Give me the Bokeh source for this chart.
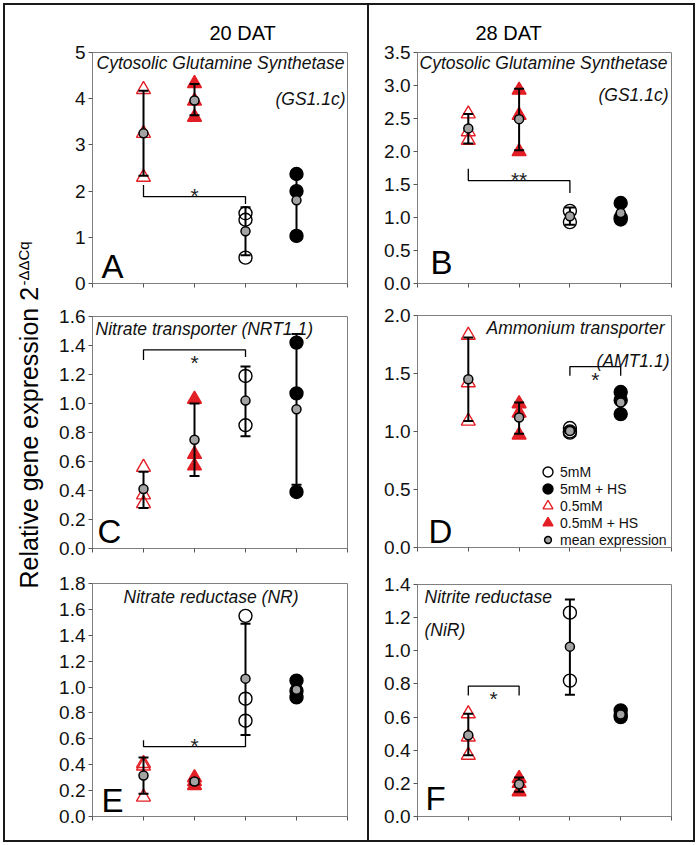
import math
from bokeh.plotting import figure
from bokeh.layouts import row, column
from bokeh.models import (Range1d, FixedTicker, PrintfTickFormatter, Label, Legend,
                          LegendItem, Title)
from bokeh.embed import file_html
from bokeh.resources import INLINE
from bokeh.core.properties import value

FONT = "Liberation Sans"
RED = "#e31f26"
GRAY = "#a3a3a3"
AXC = "#808080"

# ---------------- data ----------------
groups = ["0.5mM", "0.5mM + HS", "5mM", "5mM + HS"]
day_titles = ["20 DAT", "28 DAT"]
ylabel_main = "Relative gene expression 2"
ylabel_sup = "-ΔΔCq"

# Panel A: 20 DAT, GS1.1c
A_05 = [4.20, 3.25, 2.30]
A_05HS = [4.33, 3.95, 3.60]
A_5 = [1.52, 1.38, 0.56]
A_5HS = [2.37, 2.00, 1.03]
A_mean = [3.25, 3.96, 1.13, 1.80]
A_lo = [2.33, 3.64, 0.61, 1.12]
A_hi = [4.17, 4.32, 1.65, 2.45]

# Panel B: 28 DAT, GS1.1c
B_05 = [2.57, 2.30, 2.17]
B_05HS = [2.93, 2.55, 2.00]
B_5 = [1.10, 0.93]
B_5HS = [1.22, 1.00, 0.97]
B_mean = [2.35, 2.49, 1.02, 1.07]
B_lo = [2.12, 2.02, 0.89, 0.98]
B_hi = [2.57, 2.95, 1.15, 1.18]

# Panel C: 20 DAT, NRT1.1
C_05 = [0.56, 0.37, 0.31]
C_05HS = [1.03, 0.65, 0.57]
C_5 = [1.19, 0.85]
C_5HS = [1.42, 1.07, 0.39]
C_mean = [0.41, 0.75, 1.02, 0.96]
C_lo = [0.28, 0.50, 0.775, 0.44]
C_hi = [0.53, 1.00, 1.255, 1.48]

# Panel D: 28 DAT, AMT1.1
D_05 = [1.83, 1.42, 1.09]
D_05HS = [1.24, 1.16, 0.97]
D_5 = [1.03, 1.00, 0.99]
D_5HS = [1.34, 1.27, 1.15]
D_mean = [1.45, 1.12, 1.005, 1.25]
D_lo = [1.09, 0.98, 0.99, 1.16]
D_hi = [1.81, 1.25, 1.02, 1.34]

# Panel E: 20 DAT, NR
E_05 = [0.41, 0.39, 0.15]
E_05HS = [0.30, 0.27, 0.24]
E_5 = [1.55, 0.91, 0.74]
E_5HS = [1.05, 0.97, 0.92]
E_mean = [0.317, 0.27, 1.065, 0.98]
E_lo = [0.175, 0.25, 0.63, 0.93]
E_hi = [0.455, 0.29, 1.49, 1.04]

# Panel F: 28 DAT, NiR
F_05 = [0.62, 0.48, 0.37]
F_05HS = [0.23, 0.20, 0.15]
F_5 = [1.23, 0.82]
F_5HS = [0.64, 0.61, 0.60]
F_mean = [0.49, 0.195, 1.025, 0.615]
F_lo = [0.37, 0.15, 0.735, 0.60]
F_hi = [0.62, 0.235, 1.31, 0.63]

# significance brackets: from group, to group, left end, bar level, right end, label
A_sig = ("0.5mM", "5mM", 2.13, 1.88, 1.72, "*")
B_sig = ("0.5mM", "5mM", 1.74, 1.56, 1.37, "**")
C_sig = ("0.5mM", "5mM", 1.30, 1.37, 1.32, "*")
D_sig = ("5mM", "5mM + HS", 1.48, 1.56, 1.48, "*")
E_sig = ("0.5mM", "5mM", 0.59, 0.54, 0.64, "*")
F_sig = ("0.5mM", "0.5mM + HS", 0.73, 0.787, 0.73, "*")

# y axis limits and ticks
A_y = (0, 5, 1, "%d")
B_y = (0, 3.5, 0.5, "%.1f")
C_y = (0, 1.6, 0.2, "%.1f")
D_y = (0, 2.0, 0.5, "%.1f")
E_y = (0, 1.8, 0.2, "%.1f")
F_y = (0, 1.4, 0.2, "%.1f")

xpos = {g: i + 1 for i, g in enumerate(groups)}


def make_panel(pts, mean, lo, hi, sig, yspec, geom, letter, titles, sig_below):
    w, h, bl, br, bt, bb = geom
    y0, y1, step, fmt = yspec
    p = figure(width=w, height=h, min_border_left=bl, min_border_right=br,
               min_border_top=bt, min_border_bottom=bb,
               x_range=Range1d(0, len(groups) + 1), y_range=Range1d(y0, y1),
               output_backend="svg", toolbar_location=None, tools="")
    p.background_fill_color = "white"
    p.border_fill_color = "white"
    p.outline_line_color = AXC
    p.outline_line_width = 1
    p.xgrid.visible = False
    p.ygrid.visible = False
    nt = int(round((y1 - y0) / step))
    p.yaxis.ticker = FixedTicker(ticks=[round(y0 + k * step, 4) for k in range(nt + 1)])
    p.yaxis.formatter = PrintfTickFormatter(format=fmt)
    p.xaxis.ticker = FixedTicker(ticks=list(range(0, len(groups) + 2)))
    for ax in (p.xaxis[0], p.yaxis[0]):
        ax.axis_line_color = AXC
        ax.axis_line_width = 1
        ax.major_tick_line_color = "#555555"
        ax.major_tick_out = 4
        ax.major_tick_in = 0
        ax.minor_tick_line_color = None
    # x axis: tick marks only, no tick labels
    p.xaxis.major_label_text_color = None
    p.xaxis.major_label_text_font_size = "0px"
    p.xaxis.major_label_standoff = 0
    p.yaxis.major_label_text_font = FONT
    p.yaxis.major_label_text_font_size = "19px"
    p.yaxis.major_label_text_color = "#111111"
    p.yaxis.major_label_standoff = 3

    styles = {
        "0.5mM": dict(marker="triangle", fill_color=None, line_color=RED, size=14, line_width=1.4),
        "0.5mM + HS": dict(marker="triangle", fill_color=RED, line_color=RED, size=14, line_width=1.4),
        "5mM": dict(marker="circle", fill_color=None, line_color="black", size=13, line_width=1.4),
        "5mM + HS": dict(marker="circle", fill_color="black", line_color="black", size=13, line_width=1.4),
    }
    rends = {}
    for g, vals in zip(groups, pts):
        rends[g] = p.scatter(x=[xpos[g]] * len(vals), y=vals, **styles[g])

    xs = [xpos[g] for g in groups]
    p.segment(x0=xs, y0=lo, x1=xs, y1=hi, line_color="black", line_width=2)
    p.scatter(x=xs + xs, y=lo + hi, marker="dash", size=10, line_color="black", line_width=2)
    rends["mean"] = p.scatter(x=xs, y=mean, marker="circle", size=9, fill_color=GRAY,
                              line_color="black", line_width=1.5)

    # significance bracket
    ga, gb, yl, yb, yr, lab = sig
    xa, xb = xpos[ga], xpos[gb]
    p.line(x=[xa, xa, xb, xb], y=[yl, yb, yb, yr], line_color="black", line_width=1.3)
    p.text(x=[(xa + xb) / 2], y=[yb], text=[lab], text_font=value(FONT), text_font_size="21px",
           text_align="center", text_baseline="top", y_offset=(1 if sig_below else -13),
           text_color="#222222")

    fh = h - bt - bb
    for txt, tx, dy, al in titles:
        p.add_layout(Label(x=tx, y=fh - dy, x_units="screen", y_units="screen", text=txt,
                           text_font=FONT, text_font_size="17.5px", text_font_style="italic",
                           text_align=al, text_baseline="top", text_color="#111111"))
    p.add_layout(Label(x=letter[1], y=letter[2] + 30, x_units="screen", y_units="screen",
                       text=letter[0], text_font=FONT, text_font_size="33px",
                       text_baseline="top", text_color="black"))
    return p, rends, fh


# geometry: width, height, border left, right, top, bottom
pA, rA, fhA = make_panel([A_05, A_05HS, A_5, A_5HS], A_mean, A_lo, A_hi, A_sig, A_y,
                         (322, 293, 43, 20, 47, 15), ("A", 9, 6),
                         [("Cytosolic Glutamine Synthetase", 4, 0, "left"), ("(GS1.1c)", 253, 36, "right")], False)
pC, rC, fhC = make_panel([C_05, C_05HS, C_5, C_5HS], C_mean, C_lo, C_hi, C_sig, C_y,
                         (322, 267, 47, 19, 18, 17), ("C", 5, 6),
                         [("Nitrate transporter (NRT1.1)", 3, 2, "left")], True)
pE, rE, fhE = make_panel([E_05, E_05HS, E_5, E_5HS], E_mean, E_lo, E_hi, E_sig, E_y,
                         (322, 275, 44, 20, 18, 24), ("E", 9, 5),
                         [("Nitrate reductase (NR)", 31, 3, "left")], False)
pB, rB, fhB = make_panel([B_05, B_05HS, B_5, B_5HS], B_mean, B_lo, B_hi, B_sig, B_y,
                         (324, 293, 43, 22, 47, 15), ("B", 13, 10),
                         [("Cytosolic Glutamine Synthetase", 2, 0, "left"), ("(GS1.1c)", 251, 32, "right")], False)
pD, rD, fhD = make_panel([D_05, D_05HS, D_5, D_5HS], D_mean, D_lo, D_hi, D_sig, D_y,
                         (324, 267, 44, 21, 17, 18), ("D", 11, 5),
                         [("Ammonium transporter", 247, 2, "right"), ("(AMT1.1)", 252, 35, "right")], True)
pF, rF, fhF = make_panel([F_05, F_05HS, F_5, F_5HS], F_mean, F_lo, F_hi, F_sig, F_y,
                         (324, 275, 48, 20, 19, 24), ("F", 8, 7),
                         [("Nitrite reductase", 7, 2, "left"), ("(NiR)", 7, 35, "left")], True)

# column headers
pA.title = Title(text=day_titles[0], align="left", offset=117, standoff=18,
                 text_font=FONT, text_font_size="20px", text_font_style="normal", text_color="black")
pB.title = Title(text=day_titles[1], align="left", offset=58, standoff=18,
                 text_font=FONT, text_font_size="20px", text_font_style="normal", text_color="black")

# shared y axis label in its own narrow strip
pL = figure(width=40, height=835, min_border=0, min_border_left=0, min_border_right=0,
            min_border_top=0, min_border_bottom=0, x_range=Range1d(0, 1), y_range=Range1d(0, 1),
            x_axis_type=None, y_axis_type=None, output_backend="svg", toolbar_location=None, tools="")
pL.outline_line_color = None
pL.xgrid.visible = False
pL.ygrid.visible = False
pL.add_layout(Label(x=9.5, y=252, x_units="screen", y_units="screen", text=ylabel_main,
                    angle=math.pi / 2, text_font=FONT, text_font_size="25px", text_align="left",
                    text_baseline="top", text_color="black"))
pL.add_layout(Label(x=9.5, y=555, x_units="screen", y_units="screen", text=ylabel_sup,
                    angle=math.pi / 2, text_font=FONT, text_font_size="15px", text_align="left",
                    text_baseline="top", text_color="black"))

# legend in panel D (split so the rows interleave at the reference spacing)
common = dict(glyph_width=25, label_standoff=0, padding=0, margin=0, border_line_color=None,
              background_fill_alpha=0, label_text_font=FONT, label_text_font_size="14px",
              label_text_color="#111111")
leg1 = Legend(items=[LegendItem(label="5mM", renderers=[rD["5mM"]]),
                     LegendItem(label="0.5mM", renderers=[rD["0.5mM"]])],
              location=(118, 29), glyph_height=25, spacing=9, **common)
leg2 = Legend(items=[LegendItem(label="5mM + HS", renderers=[rD["5mM + HS"]]),
                     LegendItem(label="0.5mM + HS", renderers=[rD["0.5mM + HS"]])],
              location=(118, 12), glyph_height=25, spacing=9, **common)
leg3 = Legend(items=[LegendItem(label="mean expression", renderers=[rD["mean"]])],
              location=(118, -1), glyph_height=17, spacing=0, **common)
for lg in (leg1, leg2, leg3):
    pD.add_layout(lg)

left = row(pL, column(pA, pC, pE), styles={"border-right": "2px solid #1a1a1a"})
right = column(pB, pD, pF)
page = row(left, right, styles={"border": "2px solid #1a1a1a", "margin": "3px"})

open("out.html", "w").write(file_html(page, INLINE))
